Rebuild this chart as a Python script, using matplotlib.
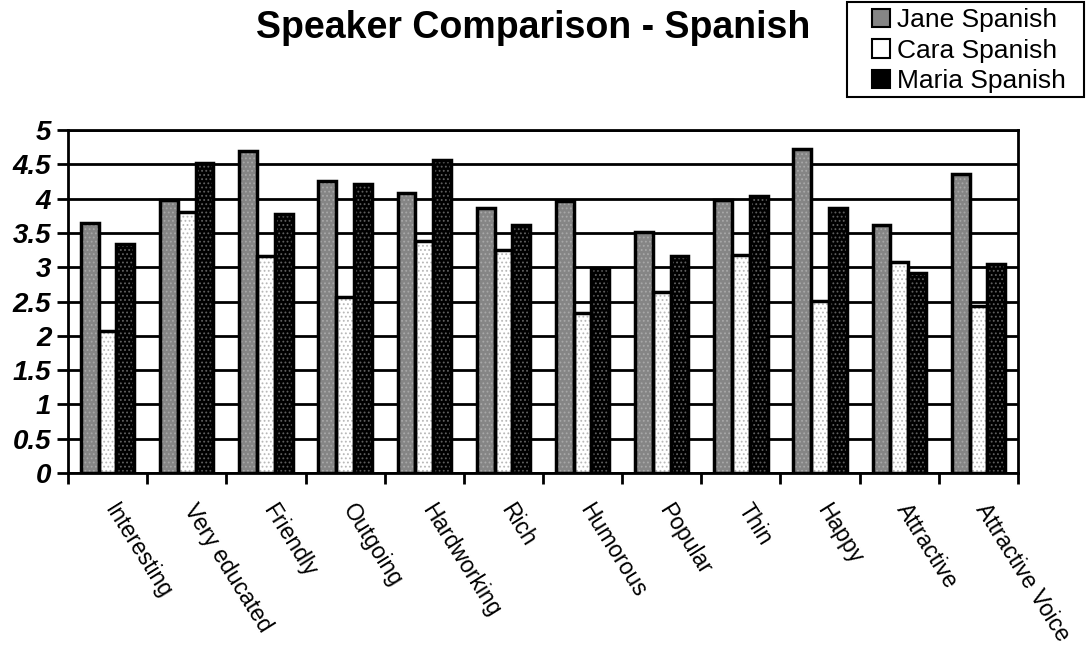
import numpy as np
import matplotlib
matplotlib.use("Agg")
import matplotlib.pyplot as plt
import matplotlib.transforms as mtransforms
from matplotlib.patches import Patch, Rectangle

categories = ["Interesting", "Very educated", "Friendly", "Outgoing", "Hardworking",
              "Rich", "Humorous", "Popular", "Thin", "Happy", "Attractive",
              "Attractive Voice"]
jane = [3.64, 3.98, 4.69, 4.25, 4.08, 3.86, 3.96, 3.51, 3.98, 4.72, 3.62, 4.36]
cara = [2.07, 3.81, 3.16, 2.56, 3.38, 3.25, 2.33, 2.64, 3.18, 2.51, 3.07, 2.43]
maria = [3.34, 4.52, 3.78, 4.21, 4.56, 3.61, 2.99, 3.17, 4.04, 3.87, 2.91, 3.04]
series_names = ["Jane Spanish", "Cara Spanish", "Maria Spanish"]

plt.rcParams['font.family'] = ['Liberation Sans', 'DejaVu Sans']
plt.rcParams['hatch.linewidth'] = 0.8

# face colour, dot colour
styles = [("#858585", "#a8a8a8"), ("#ffffff", "#b8b8b8"), ("#000000", "#606060")]

W, H = 1088, 647
fig = plt.figure(figsize=(W / 100, H / 100), dpi=100)
ax = fig.add_axes([68 / W, 174 / H, 950 / W, 343 / H])

x = np.arange(len(categories)) + 0.5
w = 0.225
for i, vals in enumerate([jane, cara, maria]):
    face, dots = styles[i]
    pos = x + (i - 1) * w
    ax.bar(pos, vals, w, color=face, edgecolor="none", zorder=3)
    ax.bar(pos, vals, w, fill=False, hatch="....", edgecolor=dots, linewidth=0, zorder=4)
    ax.bar(pos, vals, w, fill=False, edgecolor="black", linewidth=2.5, zorder=5)

ax.set_xlim(0, len(categories))
ax.set_ylim(0, 5)
ax.set_yticks(np.arange(0, 5.01, 0.5))
ax.set_yticklabels([f"{v:g}" for v in np.arange(0, 5.01, 0.5)],
                   fontsize=20, fontweight="bold", fontstyle="italic")
ax.yaxis.grid(True, color="black", linewidth=2, zorder=1)
ax.set_axisbelow(True)

ax.set_xticks(x)
ax.set_xticklabels(categories, fontsize=16.5, rotation=-58, ha="left", va="top",
                   rotation_mode="anchor")
ax.tick_params(axis="x", which="major", length=0, pad=19)
shift = mtransforms.ScaledTranslation(12 / 100, 0, fig.dpi_scale_trans)
for lab in ax.get_xticklabels():
    lab.set_transform(lab.get_transform() + shift)
ax.set_xticks(np.arange(0, len(categories) + 1), minor=True)
ax.tick_params(axis="x", which="minor", length=8, width=2, direction="out")
ax.tick_params(axis="y", length=8, width=2, direction="out", pad=4)

for s in ax.spines.values():
    s.set_linewidth(2)
    s.set_color("black")

fig.text(533 / W, 1 - 28 / H, "Speaker Comparison - Spanish", fontsize=27,
         fontweight="bold", ha="center", va="center")

# legend box drawn separately so the padding can be set per side
fig.patches.append(Rectangle((847 / W, 1 - 97 / H), 237 / W, 95 / H,
                             transform=fig.transFigure, facecolor="white",
                             edgecolor="black", linewidth=1.5, zorder=1))
handles = [Patch(facecolor=styles[i][0], edgecolor="black", linewidth=1.5,
                 label=series_names[i]) for i in range(3)]
leg = fig.legend(handles=handles, loc="upper left",
                 bbox_to_anchor=(872 / W, 1 - 8 / H), fontsize=19,
                 frameon=False, handlelength=0.7, handleheight=0.7,
                 handletextpad=0.25, labelspacing=0.25, borderpad=0,
                 borderaxespad=0)
leg.set_zorder(2)

fig.savefig("out.png", dpi=100)
